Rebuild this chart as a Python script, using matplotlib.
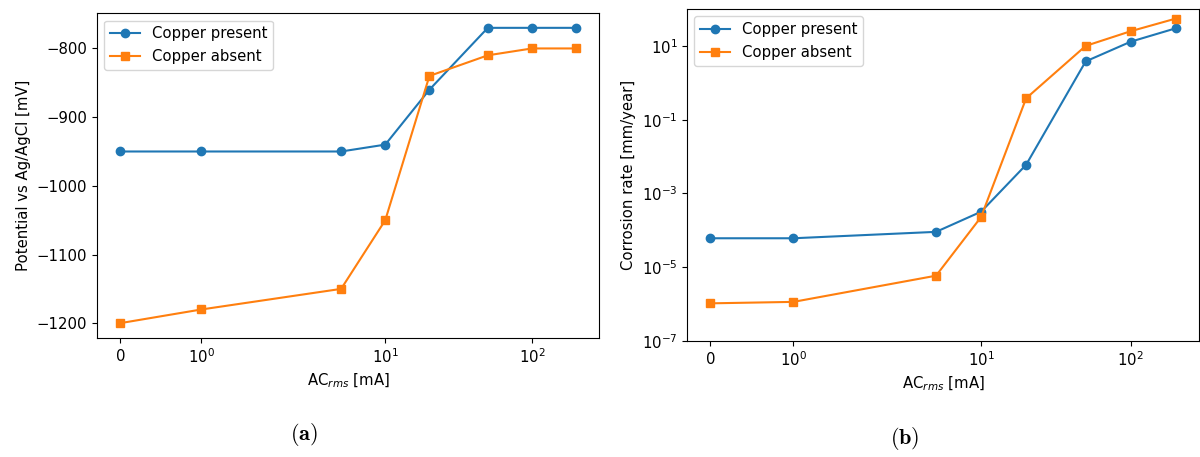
import matplotlib
matplotlib.use('Agg')
import matplotlib.pyplot as plt
from matplotlib.ticker import NullLocator, FixedLocator

# AC current levels [mA]
ac_rms = [0, 1, 5, 10, 20, 50, 100, 200]

# Potential vs Ag/AgCl [mV]
pot_cu_present = [-950, -950, -950, -940, -860, -770, -770, -770]
pot_cu_absent = [-1200, -1180, -1150, -1050, -840, -810, -800, -800]

# Corrosion rate [mm/year]
rate_cu_present = [6.1e-5, 6.1e-5, 9.1e-5, 3.2e-4, 6.0e-3, 3.8, 13, 30]
rate_cu_absent = [1.05e-6, 1.15e-6, 5.9e-6, 2.3e-4, 0.38, 10, 25, 55]

x_ticks = [0, 1, 10, 100]
rate_ticks = [1e-7, 1e-5, 1e-3, 1e-1, 1e1]

plt.rcParams['font.size'] = 10.7

fig = plt.figure(figsize=(12, 4.57), dpi=100)
ax1 = fig.add_axes([0.0808, 0.2604, 0.4183, 0.711])
ax2 = fig.add_axes([0.5725, 0.2538, 0.4267, 0.7265])

# (a) potential
ax1.plot(ac_rms, pot_cu_present, 'o-', label='Copper present')
ax1.plot(ac_rms, pot_cu_absent, 's-', label='Copper absent')
ax1.set_xscale('symlog')
ax1.xaxis.set_major_locator(FixedLocator(x_ticks))
ax1.xaxis.set_minor_locator(NullLocator())
ax1.set_xlabel('AC$_{rms}$ [mA]')
ax1.set_ylabel('Potential vs Ag/AgCl [mV]')
ax1.legend(loc='upper left')

# (b) corrosion rate
ax2.plot(ac_rms, rate_cu_present, 'o-', label='Copper present')
ax2.plot(ac_rms, rate_cu_absent, 's-', label='Copper absent')
ax2.set_xscale('symlog')
ax2.set_yscale('log')
ax2.set_ylim(1e-7, 1e2)
ax2.xaxis.set_major_locator(FixedLocator(x_ticks))
ax2.xaxis.set_minor_locator(NullLocator())
ax2.yaxis.set_major_locator(FixedLocator(rate_ticks))
ax2.yaxis.set_minor_locator(NullLocator())
ax2.set_xlabel('AC$_{rms}$ [mA]')
ax2.set_ylabel('Corrosion rate [mm/year]')
ax2.legend(loc='upper left')

fig.text(0.2533, 0.05, r'$\mathbf{(a)}$', ha='center', va='center',
         fontsize=16, math_fontfamily='cm')
fig.text(0.754, 0.041, r'$\mathbf{(b)}$', ha='center', va='center',
         fontsize=16, math_fontfamily='cm')

fig.savefig('out.png', dpi=100)
